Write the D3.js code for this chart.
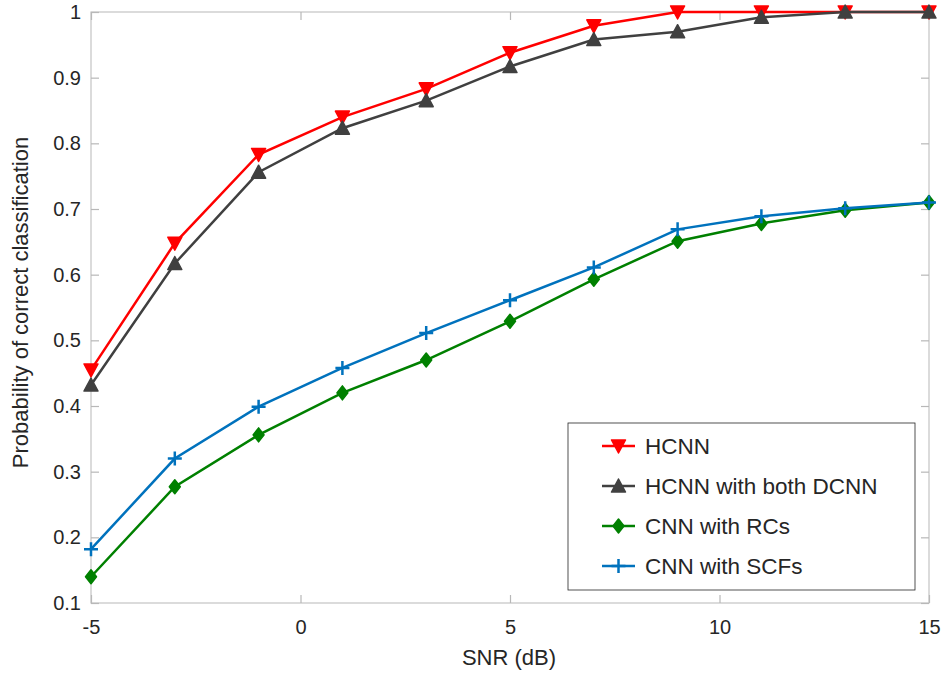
<!DOCTYPE html>
<html>
<head>
<meta charset="utf-8">
<script src="https://cdn.jsdelivr.net/npm/d3@7"></script>
<style>
  body { margin: 0; background: #fff; }
  text { font-family: "Liberation Sans", Arial, sans-serif; }
</style>
</head>
<body>
<div id="chart"></div>
<script>
const snr = [-5, -3, -1, 1, 3, 5, 7, 9, 11, 13, 15];
const hcnn = [0.455, 0.648, 0.783, 0.84, 0.883, 0.938, 0.979, 1.0, 1.0, 1.0, 1.0];
const hcnnBoth = [0.432, 0.617, 0.756, 0.823, 0.865, 0.917, 0.958, 0.970, 0.992, 1.0, 1.0];
const cnnRCs = [0.140, 0.277, 0.356, 0.420, 0.470, 0.529, 0.593, 0.651, 0.678, 0.698, 0.710];
const cnnSCFs = [0.182, 0.320, 0.399, 0.458, 0.511, 0.561, 0.611, 0.669, 0.689, 0.701, 0.710];
const xTicks = [-5, 0, 5, 10, 15];
const yTicks = [0.1, 0.2, 0.3, 0.4, 0.5, 0.6, 0.7, 0.8, 0.9, 1];

const seriesList = [
  {name: "HCNN", values: hcnn, color: "#ff0000", marker: "down"},
  {name: "HCNN with both DCNN", values: hcnnBoth, color: "#404040", marker: "up"},
  {name: "CNN with RCs", values: cnnRCs, color: "#008000", marker: "diamond"},
  {name: "CNN with SCFs", values: cnnSCFs, color: "#0072bd", marker: "plus"}
];

const width = 943, height = 674;
const margin = {top: 12, right: 14, bottom: 71, left: 91};
const innerW = width - margin.left - margin.right;
const innerH = height - margin.top - margin.bottom;

const x = d3.scaleLinear().domain([-5, 15]).range([0, innerW]);
const y = d3.scaleLinear().domain([0.1, 1]).range([innerH, 0]);

const svg = d3.select("#chart").append("svg")
  .attr("width", width).attr("height", height);

const g = svg.append("g").attr("transform", `translate(${margin.left},${margin.top})`);

// box
g.append("rect")
  .attr("width", innerW).attr("height", innerH)
  .attr("fill", "none").attr("stroke", "#c4c4c4").attr("stroke-width", 1.2);

const tickLen = 8;
// bottom + top ticks (inward, matlab style)
const xAxis = g.append("g").attr("transform", `translate(0,${innerH})`)
  .call(d3.axisBottom(x).tickValues(xTicks).tickSizeInner(-tickLen).tickSizeOuter(0).tickPadding(19).tickFormat(d => String(d)));
g.append("g")
  .call(d3.axisTop(x).tickValues(xTicks).tickSizeInner(-tickLen).tickSizeOuter(0).tickFormat(""));
const yAxis = g.append("g")
  .call(d3.axisLeft(y).tickValues(yTicks).tickSizeInner(-tickLen).tickSizeOuter(0).tickPadding(10).tickFormat(d => d === 1 ? "1" : d3.format(".1f")(d)));
g.append("g").attr("transform", `translate(${innerW},0)`)
  .call(d3.axisRight(y).tickValues(yTicks).tickSizeInner(-tickLen).tickSizeOuter(0).tickFormat(""));

g.selectAll(".domain").remove();
g.selectAll(".tick line").attr("stroke", "#b8b8b8").attr("stroke-width", 1.2);
g.selectAll(".tick text").attr("fill", "#262626").style("font-size", "20px")
  .style("font-family", "'Liberation Sans', Arial, sans-serif");
xAxis.selectAll(".tick text").attr("dy", "0.6em");

// axis titles
svg.append("text")
  .attr("x", margin.left + innerW / 2 - 1).attr("y", 665)
  .attr("text-anchor", "middle").attr("fill", "#262626").style("font-size", "22px")
  .text("SNR (dB)");
svg.append("text")
  .attr("transform", `translate(20,${margin.top + innerH / 2 - 5}) rotate(-90)`)
  .attr("dy", "0.35em")
  .attr("text-anchor", "middle").attr("fill", "#262626").style("font-size", "22px")
  .text("Probability of correct classification");

function markerPath(type) {
  if (type === "down") return "M-7,-6L7,-6L0,7Z";
  if (type === "up") return "M-7,6L7,6L0,-7Z";
  if (type === "diamond") return "M0,-7L5.5,0L0,7L-5.5,0Z";
  return "M-7,0L7,0M0,-7L0,7";
}

const line = d3.line().x((d, i) => x(snr[i])).y(d => y(d));

seriesList.forEach(s => {
  g.append("path")
    .datum(s.values)
    .attr("fill", "none")
    .attr("stroke", s.color)
    .attr("stroke-width", 2.5)
    .attr("d", line);
  g.selectAll(null)
    .data(s.values)
    .join("path")
    .attr("transform", (d, i) => `translate(${x(snr[i])},${y(d)})`)
    .attr("d", markerPath(s.marker))
    .attr("fill", s.marker === "plus" ? "none" : s.color)
    .attr("stroke", s.color)
    .attr("stroke-width", s.marker === "plus" ? 2.5 : 1.5)
    .attr("stroke-linejoin", "round");
});

// legend
const legend = svg.append("g").attr("transform", "translate(568,423)");
legend.append("rect")
  .attr("width", 347).attr("height", 167)
  .attr("fill", "#fff").attr("stroke", "#262626").attr("stroke-width", 0.8);

const legendItems = legend.selectAll(".legend-item")
  .data(seriesList)
  .join("g")
  .attr("class", "legend-item")
  .attr("transform", (d, i) => `translate(0,${23 + i * 40})`);

legendItems.append("line")
  .attr("x1", 34).attr("x2", 67)
  .attr("stroke", d => d.color).attr("stroke-width", 2.5);
legendItems.append("path")
  .attr("transform", "translate(50.5,0)")
  .attr("d", d => markerPath(d.marker))
  .attr("fill", d => d.marker === "plus" ? "none" : d.color)
  .attr("stroke", d => d.color)
  .attr("stroke-width", d => d.marker === "plus" ? 2.5 : 1.5)
  .attr("stroke-linejoin", "round");
legendItems.append("text")
  .attr("x", 77).attr("y", 0).attr("dy", "0.35em")
  .attr("fill", "#262626").style("font-size", "22.5px")
  .text(d => d.name);
</script>
</body>
</html>
